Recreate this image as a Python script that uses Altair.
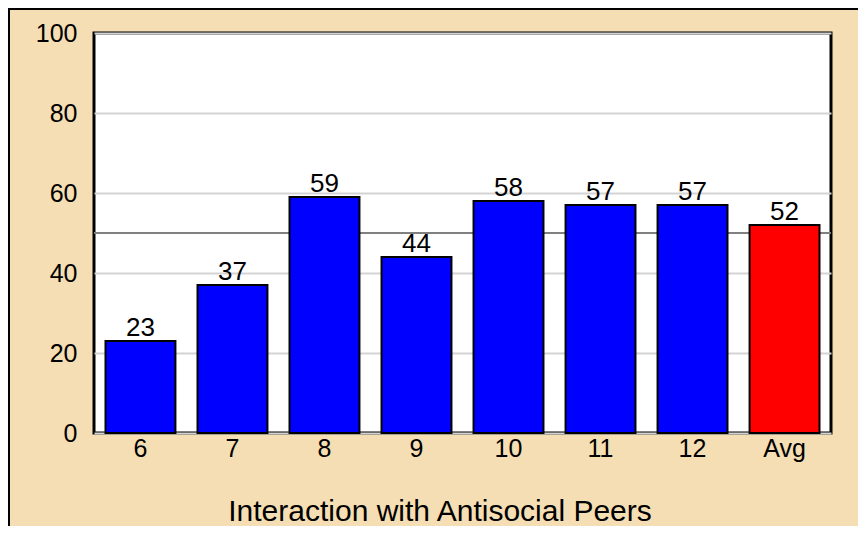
import altair as alt
import pandas as pd

categories = ["6", "7", "8", "9", "10", "11", "12", "Avg"]
values = [23, 37, 59, 44, 58, 57, 57, 52]
bar_colors = ["#0000FF"] * 7 + ["#FF0000"]
y_ticks = [0, 20, 40, 60, 80, 100]
ref_value = 50
x_title = "Interaction with Antisocial Peers"

df = pd.DataFrame({"cat": categories, "val": values, "color": bar_colors})

W, H = 737, 400
FONT = "Liberation Sans"

x_enc = alt.X("cat:N", sort=categories,
              scale=alt.Scale(paddingInner=0.24, paddingOuter=0.125),
              axis=alt.Axis(title=None, labelAngle=0, labelFontSize=25,
                            labelPadding=3, ticks=False, tickSize=0, domain=False,
                            labelColor="black", labelFont=FONT, grid=False))
y_enc = alt.Y("val:Q", scale=alt.Scale(domain=[0, 100], nice=False),
              axis=alt.Axis(title=None, values=y_ticks, labelFontSize=25,
                            labelPadding=17, ticks=False, tickSize=0, domain=False,
                            grid=True, gridColor="#D3D3D3", gridWidth=2,
                            labelColor="black", labelFont=FONT))

base = alt.Chart(df)

ref = alt.Chart(pd.DataFrame({"y": [ref_value]})).mark_rule(
    color="#808080", strokeWidth=2).encode(y="y:Q")

bars = base.mark_bar(stroke="black", strokeWidth=2).encode(
    x=x_enc, y=y_enc, color=alt.Color("color:N", scale=None))

labels = base.mark_text(baseline="alphabetic", dy=-5, fontSize=26, font=FONT,
                        color="black").encode(
    x=alt.X("cat:N", sort=categories), y="val:Q", text="val:Q")

title = alt.Chart(pd.DataFrame({"t": [x_title]})).mark_text(
    fontSize=30, font=FONT, color="black", baseline="alphabetic", align="center"
).encode(x=alt.value(346), y=alt.value(488), text="t:N")

border = alt.Chart(pd.DataFrame({"b": [1]})).mark_rect(
    fill="transparent", fillOpacity=0, stroke="black", strokeWidth=2
).encode(x=alt.value(-85), x2=alt.value(W + 200), y=alt.value(-24),
         y2=alt.value(H + 200))

chart = alt.layer(ref, bars, labels, title, border).properties(
    width=W, height=H,
    background="#F5DEB3",
    autosize=alt.AutoSizeParams(type="none"),
    padding={"left": 86, "top": 25, "right": 27, "bottom": 93},
).configure_view(fill="white", stroke="black", strokeWidth=3)

chart.save("out.html", embed_options={"renderer": "svg", "actions": False})
